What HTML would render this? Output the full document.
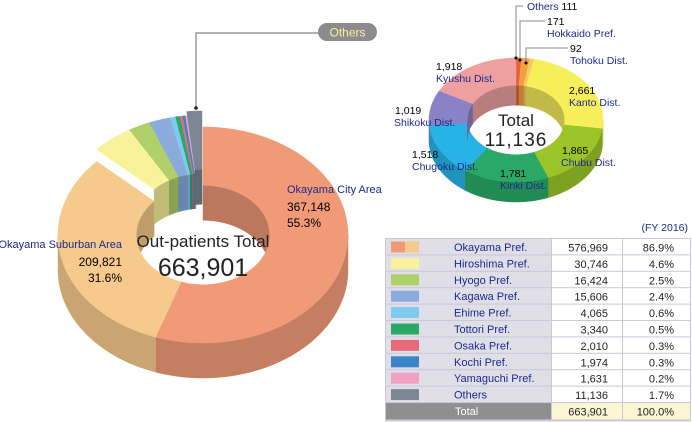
<!DOCTYPE html>
<html><head><meta charset="utf-8"><style>
body{margin:0;background:#fff;width:692px;height:422px;overflow:hidden;font-family:"Liberation Sans",sans-serif}
svg{display:block}
.nv{fill:#1d2a8a}
</style></head><body>
<svg width="692" height="422" viewBox="0 0 692 422">
<g id="left"></g>
<g id="right"></g>
<g font-size="11">
<text x="287" y="193" class="nv">Okayama City Area</text>
<text x="287" y="211" font-size="12">367,148</text>
<text x="287" y="227" font-size="12">55.3%</text>
<text x="122" y="248" text-anchor="end" class="nv">Okayama Suburban Area</text>
<text x="122" y="266" text-anchor="end" font-size="12">209,821</text>
<text x="122" y="282" text-anchor="end" font-size="12">31.6%</text>
<text x="203" y="247" text-anchor="middle" font-size="17" fill="#222">Out-patients Total</text>
<text x="203" y="276" text-anchor="middle" font-size="25" fill="#222">663,901</text>
<polyline points="318,33 196,33 196,108" fill="none" stroke="#999" stroke-width="1.5"/>
<circle cx="196" cy="108" r="1.8" fill="#222"/>
<rect x="318" y="23" width="59" height="18" rx="9" fill="#8c8c8c"/>
<text x="347.5" y="36.5" text-anchor="middle" font-size="12" fill="#f5f0a0">Others</text>
</g>
<g font-size="10.5">
<polyline points="523,6 516,6 516,58" fill="none" stroke="#888" stroke-width="1"/><circle cx="516" cy="58" r="1.5"/>
<text x="527" y="10"><tspan class="nv">Others</tspan> 111</text>
<polyline points="545,21 520,21 520,60" fill="none" stroke="#888" stroke-width="1"/><circle cx="520" cy="60" r="1.5"/>
<text x="547" y="25">171</text><text x="547" y="37" class="nv">Hokkaido Pref.</text>
<polyline points="568,48 526,48 526,63" fill="none" stroke="#888" stroke-width="1"/><circle cx="526" cy="63" r="1.5"/>
<text x="570" y="52">92</text><text x="570" y="64" class="nv">Tohoku Dist.</text>
<text x="436" y="70">1,918</text><text x="436" y="82" class="nv">Kyushu Dist.</text>
<text x="569" y="94">2,661</text><text x="569" y="106" class="nv">Kanto Dist.</text>
<text x="395" y="114">1,019</text><text x="394" y="126" class="nv">Shikoku Dist.</text>
<text x="562" y="154">1,865</text><text x="561" y="166" class="nv">Chubu Dist.</text>
<text x="412" y="158">1,518</text><text x="412" y="170" class="nv">Chugoku Dist.</text>
<text x="500" y="177">1,781</text><text x="500" y="189" class="nv">Kinki Dist.</text>
<text x="516" y="126" text-anchor="middle" font-size="17" fill="#222">Total</text>
<text x="516" y="146" text-anchor="middle" font-size="19" fill="#222" letter-spacing="1">11,136</text>
</g>
<g id="table">
<text x="688" y="231" text-anchor="end" font-size="10.5" class="nv">(FY 2016)</text>
</g>
</svg>
<script>
// Left chart data
const leftNames=["Okayama City Area","Okayama Suburban Area","Hiroshima Pref.","Hyogo Pref.","Kagawa Pref.","Ehime Pref.","Tottori Pref.","Osaka Pref.","Kochi Pref.","Yamaguchi Pref.","Others"];
const leftValues=[367148,209821,30746,16424,15606,4065,3340,2010,1974,1631,11136];
const leftColors=["#f09a78","#f6c98c","#f8f29a","#b0d06a","#8aabdc","#7fcbf0","#2aa866","#e86a7a","#3c84c8","#f0a0c0","#7a8793"];
// Right chart data
const rightNames=["Others","Hokkaido Pref.","Tohoku Dist.","Kanto Dist.","Chubu Dist.","Kinki Dist.","Chugoku Dist.","Shikoku Dist.","Kyushu Dist."];
const rightValues=[111,171,92,2661,1865,1781,1518,1019,1918];
const rightColors=["#e8603a","#f5a040","#f9c868","#f7ef5a","#9bc42a","#2aa866","#27b3e6","#8a82c4","#eea0a0"];
// Table data
const tableNames=["Okayama Pref.","Hiroshima Pref.","Hyogo Pref.","Kagawa Pref.","Ehime Pref.","Tottori Pref.","Osaka Pref.","Kochi Pref.","Yamaguchi Pref.","Others"];
const tableValues=["576,969","30,746","16,424","15,606","4,065","3,340","2,010","1,974","1,631","11,136"];
const tablePcts=["86.9%","4.6%","2.5%","2.4%","0.6%","0.5%","0.3%","0.3%","0.2%","1.7%"];
const tableColors=["#f09a78","#f8f29a","#b0d06a","#8aabdc","#7fcbf0","#2aa866","#e86a7a","#3c84c8","#f0a0c0","#7a8793"];

const NS="http://www.w3.org/2000/svg";
function shade(c,f){const n=parseInt(c.slice(1),16);let r=n>>16,g=(n>>8)&255,b=n&255;r=Math.round(r*f);g=Math.round(g*f);b=Math.round(b*f);return `rgb(${Math.min(255,r)},${Math.min(255,g)},${Math.min(255,b)})`;}
function pt(g,t,r){return [g.cx+g.rx*r*Math.sin(t),g.cy-g.ry*r*Math.cos(t)];}
function arc(g,a,b,r,dy){const pts=[];const n=Math.max(2,Math.ceil((b-a)/0.03));for(let i=0;i<=n;i++){const p=pt(g,a+(b-a)*i/n,r);pts.push([p[0],p[1]+dy]);}return pts;}
function poly(parent,pts,fill,name){const p=document.createElementNS(NS,"polygon");p.setAttribute("points",pts.map(q=>q[0].toFixed(1)+","+q[1].toFixed(1)).join(" "));p.setAttribute("fill",fill);p.setAttribute("stroke",fill);p.setAttribute("stroke-width","0.5");


parent.appendChild(p);return p;}
function donut(parent,g,vals,cols,names,offsets){
  const tot=vals.reduce((s,v)=>s+v,0);const sl=[];let acc=0;
  vals.forEach((v,i)=>{const a=acc/tot*2*Math.PI;acc+=v;sl.push({a,b:acc/tot*2*Math.PI,c:cols[i],o:offsets?offsets[i]:[0,0],n:names[i]});});
  const groups=sl.map(s=>{const e=document.createElementNS(NS,"g");e.setAttribute("transform",`translate(${s.o[0]},${s.o[1]})`);
  
  
  parent.appendChild(e);return e;});
  // exploded ones drawn first (back)
  sl.forEach((s,i)=>{const G=groups[i];
    // outer wall front
    const a=Math.max(s.a,Math.PI/2),b=Math.min(s.b,1.5*Math.PI);
    if(b>a){const top=arc(g,a,b,1,0),bot=arc(g,a,b,1,g.d).reverse();poly(G,top.concat(bot),shade(s.c,0.82),"outer-wall");}
    // inner wall back
    [[s.a,Math.min(s.b,Math.PI/2)],[Math.max(s.a,1.5*Math.PI),s.b]].forEach(([x,y])=>{if(y>x){const top=arc(g,x,y,g.ir,0),bot=arc(g,x,y,g.ir,g.d).reverse();poly(G,top.concat(bot),shade(s.c,0.78),"inner-wall");}});
  });
  sl.forEach((s,i)=>{const G=groups[i];const o=arc(g,s.a,s.b,1,0),inn=arc(g,s.a,s.b,g.ir,0).reverse();poly(G,o.concat(inn),s.c,"top-face");});
}
const L=document.getElementById("left");
const off=leftValues.map((v,i)=>i<2?[0,0]:(i===leftValues.length-1?[-1,-16]:[0,-12]));
donut(L,{cx:203,cy:235,rx:145,ry:108,ir:0.46,d:35},leftValues,leftColors,leftNames,off);
const R=document.getElementById("right");
donut(R,{cx:516,cy:120,rx:87,ry:62,ir:0.56,d:20},rightValues,rightColors,rightNames,null);
// hole centres for right/left kept white via background
// Table
const T=document.getElementById("table");
function rect(x,y,w,h,f,name){const r=document.createElementNS(NS,"rect");r.setAttribute("x",x);r.setAttribute("y",y);r.setAttribute("width",w);r.setAttribute("height",h);r.setAttribute("fill",f);


T.appendChild(r);return r;}
function txt(x,y,s,anchor,fill,name){const t=document.createElementNS(NS,"text");t.setAttribute("x",x);t.setAttribute("y",y);t.setAttribute("font-size","11");t.setAttribute("text-anchor",anchor);t.setAttribute("fill",fill);t.textContent=s;


T.appendChild(t);}
const top0=239,rh=16.4;
rect(385,top0-1,306,rh*11+3,"#c9c8d8","table-border");
tableNames.forEach((n,i)=>{const y=top0+i*rh;
  rect(386,y,165,rh-1,"#e0dfe8","row-label-cell");
  rect(552,y,70,rh-1,"#fff","row-value-cell");
  rect(623,y,67,rh-1,"#fff","row-pct-cell");
  if(i===0){rect(391,y+2.5,14,11,"#f09a78","swatch");rect(405,y+2.5,14,11,"#f6c98c","swatch");}
  else rect(391,y+2.5,28,11,tableColors[i],"swatch");
  txt(454,y+12,n,"start","#1d2a8a","row-name");
  txt(608,y+12.5,tableValues[i],"end","#222","row-value");
  txt(674,y+12.5,tablePcts[i],"end","#222","row-pct");
});
const ty=top0+10*rh;
rect(386,ty,165,rh,"#8f8f8f","total-label-cell");
rect(552,ty,70,rh,"#fbf6d4","total-value-cell");
rect(623,ty,67,rh,"#fbf6d4","total-pct-cell");
txt(455,ty+12,"Total","start","#fff","total-label");
txt(608,ty+12.5,"663,901","end","#222","total-value");
txt(674,ty+12.5,"100.0%","end","#222","total-pct");
</script>
</body></html>
